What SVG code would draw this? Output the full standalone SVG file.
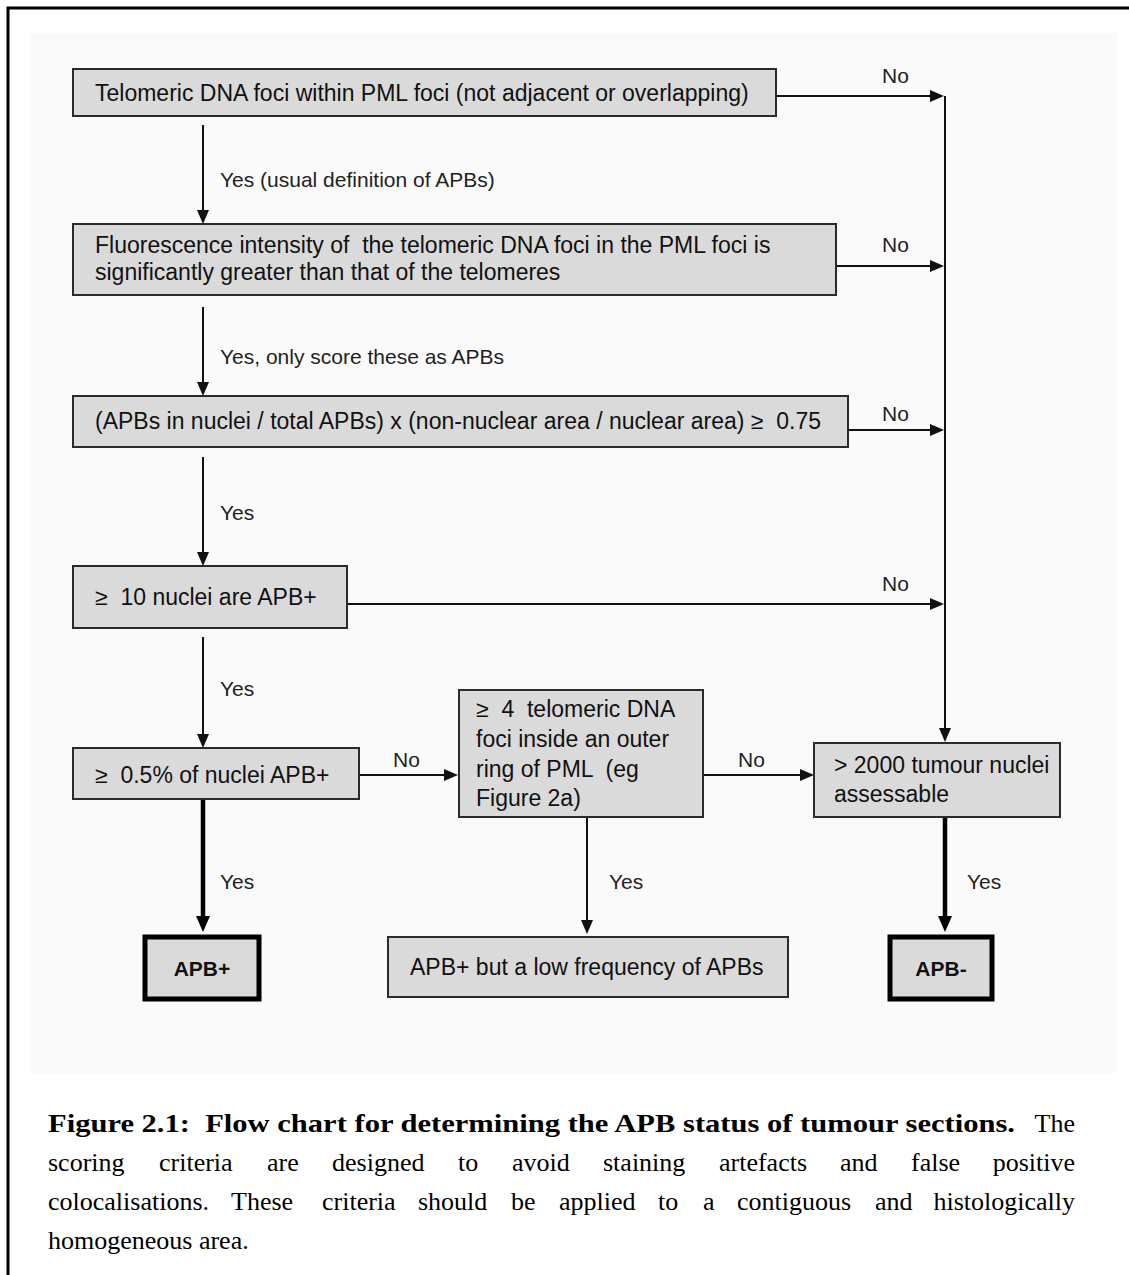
<svg xmlns="http://www.w3.org/2000/svg" width="1129" height="1275" viewBox="0 0 1129 1275">
<style>
.box{fill:#dadada;stroke:#2a2a2a;stroke-width:2}
.tbox{fill:#dadada;stroke:#000;stroke-width:5}
.t{font-family:"Liberation Sans",Arial,sans-serif;font-size:23px;fill:#111}
.tb{font-family:"Liberation Sans",Arial,sans-serif;font-size:21px;font-weight:bold;fill:#111}
.lbl{font-family:"Liberation Sans",Arial,sans-serif;font-size:21px;fill:#222}
.cap{font-family:"Liberation Serif","Times New Roman",serif;font-size:26px;fill:#000}
.c{fill:none;stroke:#111;stroke-width:2}
.ck{fill:none;stroke:#000;stroke-width:4.5}
</style>
<defs>
<marker id="ah" markerUnits="userSpaceOnUse" markerWidth="14" markerHeight="12" refX="0" refY="6" orient="auto"><path d="M0,0 L14,6 L0,12 z" fill="#111"/></marker>
<marker id="ahk" markerUnits="userSpaceOnUse" markerWidth="16" markerHeight="14" refX="0" refY="7" orient="auto"><path d="M0,0 L16,7 L0,14 z" fill="#000"/></marker>
</defs>
<rect x="0" y="0" width="1129" height="1275" fill="#fff"/>
<rect x="30" y="33" width="1087" height="1040" fill="#fafafa"/>
<path d="M8,1275 V8 H1129" fill="none" stroke="#000" stroke-width="3"/>

<g id="connectors">
<line class="c" x1="776" y1="96" x2="930" y2="96" marker-end="url(#ah)"/>
<line class="c" x1="836" y1="266" x2="930" y2="266" marker-end="url(#ah)"/>
<line class="c" x1="848" y1="430" x2="930" y2="430" marker-end="url(#ah)"/>
<line class="c" x1="347" y1="604" x2="930" y2="604" marker-end="url(#ah)"/>
<line class="c" x1="945" y1="96" x2="945" y2="728" marker-end="url(#ah)"/>
<line class="c" x1="203" y1="125" x2="203" y2="210" marker-end="url(#ah)"/>
<line class="c" x1="203" y1="307" x2="203" y2="382" marker-end="url(#ah)"/>
<line class="c" x1="203" y1="457" x2="203" y2="552" marker-end="url(#ah)"/>
<line class="c" x1="203" y1="637" x2="203" y2="734" marker-end="url(#ah)"/>
<line class="c" x1="359" y1="775" x2="444" y2="775" marker-end="url(#ah)"/>
<line class="c" x1="703" y1="775" x2="800" y2="775" marker-end="url(#ah)"/>
<line class="ck" x1="203" y1="799" x2="203" y2="916" marker-end="url(#ahk)"/>
<line class="c" x1="587" y1="817" x2="587" y2="920" marker-end="url(#ah)"/>
<line class="ck" x1="945" y1="817" x2="945" y2="916" marker-end="url(#ahk)"/>
<text class="lbl" x="882" y="83">No</text>
<text class="lbl" x="882" y="252">No</text>
<text class="lbl" x="882" y="421">No</text>
<text class="lbl" x="882" y="591">No</text>
<text class="lbl" x="220" y="187">Yes (usual definition of APBs)</text>
<text class="lbl" x="220" y="364">Yes, only score these as APBs</text>
<text class="lbl" x="220" y="520">Yes</text>
<text class="lbl" x="220" y="696">Yes</text>
<text class="lbl" x="393" y="767">No</text>
<text class="lbl" x="738" y="767">No</text>
<text class="lbl" x="220" y="889">Yes</text>
<text class="lbl" x="609" y="889">Yes</text>
<text class="lbl" x="967" y="889">Yes</text>
</g>

<g id="n1"><rect class="box" x="73" y="69" width="703" height="47"/><text class="t" x="95" y="101">Telomeric DNA foci within PML foci (not adjacent or overlapping)</text></g>
<g id="n2"><rect class="box" x="73" y="224" width="763" height="71"/><text class="t" x="95" y="253" xml:space="preserve">Fluorescence intensity of  the telomeric DNA foci in the PML foci is</text><text class="t" x="95" y="280">significantly greater than that of the telomeres</text></g>
<g id="n3"><rect class="box" x="73" y="396" width="775" height="51"/><text class="t" x="95" y="429" xml:space="preserve">(APBs in nuclei / total APBs) x (non-nuclear area / nuclear area) ≥  0.75</text></g>
<g id="n4"><rect class="box" x="73" y="566" width="274" height="62"/><text class="t" x="95" y="605" xml:space="preserve">≥  10 nuclei are APB+</text></g>
<g id="n5"><rect class="box" x="73" y="748" width="286" height="51"/><text class="t" x="95" y="783" xml:space="preserve">≥  0.5% of nuclei APB+</text></g>
<g id="n6"><rect class="box" x="459" y="690" width="244" height="127"/><text class="t" x="476" y="717" xml:space="preserve">≥  4  telomeric DNA</text><text class="t" x="476" y="747">foci inside an outer</text><text class="t" x="476" y="777" xml:space="preserve">ring of PML  (eg</text><text class="t" x="476" y="806">Figure 2a)</text></g>
<g id="n7"><rect class="box" x="814" y="743" width="246" height="74"/><text class="t" x="834" y="773">&gt; 2000 tumour nuclei</text><text class="t" x="834" y="802">assessable</text></g>
<g id="n8"><rect class="tbox" x="145" y="937" width="114" height="62"/><text class="tb" x="202" y="976" text-anchor="middle">APB+</text></g>
<g id="n9"><rect class="box" x="388" y="937" width="400" height="60"/><text class="t" x="410" y="975">APB+ but a low frequency of APBs</text></g>
<g id="n10"><rect class="tbox" x="890" y="937" width="102" height="62"/><text class="tb" x="941" y="976" text-anchor="middle">APB-</text></g>

<g id="caption">
<text class="cap" x="48" y="1132" font-weight="bold" textLength="967" lengthAdjust="spacingAndGlyphs" xml:space="preserve">Figure 2.1:  Flow chart for determining the APB status of tumour sections.</text>
<text class="cap" x="1075" y="1132" text-anchor="end">The</text>
<text class="cap" y="1171"><tspan x="48">scoring</tspan><tspan x="159">criteria</tspan><tspan x="267">are</tspan><tspan x="332">designed</tspan><tspan x="458">to</tspan><tspan x="512">avoid</tspan><tspan x="603">staining</tspan><tspan x="719">artefacts</tspan><tspan x="840">and</tspan><tspan x="911">false</tspan></text>
<text class="cap" x="1075" y="1171" text-anchor="end">positive</text>
<text class="cap" y="1210"><tspan x="48">colocalisations.</tspan><tspan x="231">These</tspan><tspan x="322">criteria</tspan><tspan x="418">should</tspan><tspan x="511">be</tspan><tspan x="559">applied</tspan><tspan x="658">to</tspan><tspan x="703">a</tspan><tspan x="737">contiguous</tspan><tspan x="875">and</tspan></text>
<text class="cap" x="1075" y="1210" text-anchor="end">histologically</text>
<text class="cap" x="48" y="1249">homogeneous area.</text>
</g>
</svg>
